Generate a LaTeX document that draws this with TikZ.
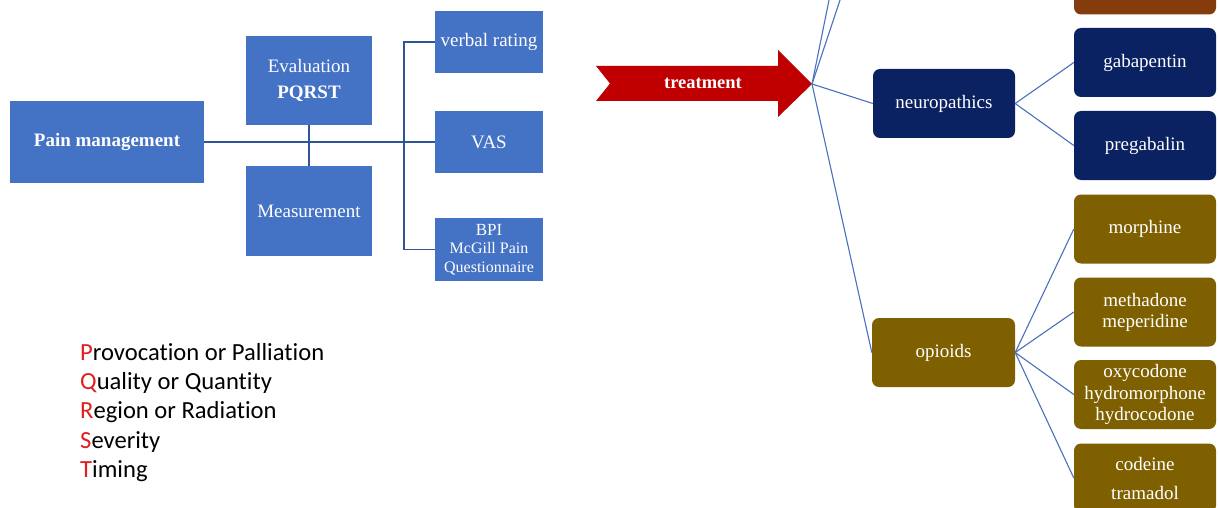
\documentclass[tikz,border=0pt]{standalone}
\usepackage{fontspec}
\setmainfont{Liberation Serif}
\newfontfamily\listfont{Carlito}[Ligatures=NoCommon]
\definecolor{boxblue}{HTML}{4472C4}
\definecolor{linkdark}{HTML}{2F5597}
\definecolor{linkblue}{HTML}{4A70BE}
\definecolor{navy}{HTML}{0B2262}
\definecolor{olive}{HTML}{7F6000}
\definecolor{rust}{HTML}{843C0C}
\definecolor{arrowred}{HTML}{C00000}
\definecolor{letterred}{HTML}{E01E1E}
\begin{document}
\begin{tikzpicture}[x=1pt,y=-1pt,
  sqbox/.style={rectangle, fill=boxblue, text=white, inner sep=0pt, align=center,
    font=\fontsize{19}{21}\selectfont},
  rbox/.style={rectangle, rounded corners=7pt, text=white, inner sep=0pt, align=center,
    minimum width=142pt, minimum height=69pt, font=\fontsize{19}{21}\selectfont},
  leftlink/.style={draw=linkdark, line width=1.4pt},
  rightlink/.style={draw=linkblue, line width=1.1pt},
  listline/.style={anchor=base west, inner sep=0pt, font=\listfont\fontsize{24.6}{29}\selectfont}]
\useasboundingbox (0,0) rectangle (1218,508);
\clip (0,0) rectangle (1218,508);
\fill[white] (0,0) rectangle (1218,508);

% --- assessment branch ---
\node[sqbox, minimum width=194pt, minimum height=82pt, font=\bfseries\fontsize{19}{21}\selectfont] (pain) at (107,142) {Pain management};
\node[sqbox, minimum width=126pt, minimum height=89pt, font=\fontsize{19}{26}\selectfont] (eval) at (309,80.5) {\raisebox{-3pt}{Evaluation}\\\raisebox{-3pt}{\textbf{PQRST}}};
\node[sqbox, minimum width=126pt, minimum height=90pt] (meas) at (309,211) {Measurement};
\node[sqbox, minimum width=108pt, minimum height=63pt, font=\fontsize{16}{18.5}\selectfont] (bpi) at (489,249.5)
  {\raisebox{-3pt}{\fontsize{17}{19}\selectfont BPI}\\\raisebox{-3pt}{McGill Pain}\\\raisebox{-3pt}{Questionnaire}};
\node[sqbox, minimum width=108pt, minimum height=62pt] (verbal) at (489,42) {verbal rating};
\node[sqbox, minimum width=108pt, minimum height=62pt] (vas) at (489,142) {VAS};

\draw[leftlink] (pain.east) -- (vas.west);
\draw[leftlink] (eval.south) -- (meas.north);
\draw[leftlink] (verbal.west) -- ++(-31,0) |- (bpi.west);

% --- PQRST list ---
\node[listline] (lp) at (80,360) {\textcolor{letterred}{P}rovocation or Palliation};
\node[listline] (lq) at (80,389) {\textcolor{letterred}{Q}uality or Quantity};
\node[listline] (lr) at (80,418) {\textcolor{letterred}{R}egion or Radiation};
\node[listline] (ls) at (80,448) {\textcolor{letterred}{S}everity};
\node[listline] (lt) at (80,477) {\textcolor{letterred}{T}iming};

% --- treatment arrow ---
\fill[arrowred] (596,66) -- (778,66) -- (778,50) -- (812,84) -- (778,117)
  -- (778,101) -- (596,101) -- (610,83.5) -- cycle;
\coordinate (tip) at (812,84);
\node[text=white, font=\bfseries\fontsize{18.5}{20}\selectfont] (treat) at (703,83) {treatment};

% --- drug classes ---
\node[rbox, fill=rust] (upper) at (1145,-20) {};
\node[rbox, fill=navy] (neuro) at (944,103.5) {neuropathics};
\node[rbox, fill=navy] (gaba) at (1145,62.5) {gabapentin};
\node[rbox, fill=navy] (prega) at (1145,145.5) {pregabalin};
\node[rbox, fill=olive, minimum width=143pt] (opi) at (943.5,352.5) {opioids};
\node[rbox, fill=olive] (morph) at (1145,229) {morphine};
\node[rbox, fill=olive] (metha) at (1145,312) {methadone\\meperidine};
\node[rbox, fill=olive, font=\fontsize{19}{21.5}\selectfont] (oxy) at (1145,394.5) {oxycodone\\hydromorphone\\hydrocodone};
\node[rbox, fill=olive, font=\fontsize{19}{29}\selectfont] (cod) at (1145,478) {codeine\\tramadol};

\coordinate (upA) at (872,-96);
\coordinate (upB) at (872,-212);

\draw[rightlink] (tip) -- (upA);
\draw[rightlink] (tip) -- (upB);
\draw[rightlink] (tip) -- (neuro.west);
\draw[rightlink] (tip) -- (opi.west);
\draw[rightlink] (neuro.east) -- (gaba.west);
\draw[rightlink] (neuro.east) -- (prega.west);
\draw[rightlink] (opi.east) -- (morph.west);
\draw[rightlink] (opi.east) -- (metha.west);
\draw[rightlink] (opi.east) -- (oxy.west);
\draw[rightlink] (opi.east) -- (cod.west);
\end{tikzpicture}
\end{document}
